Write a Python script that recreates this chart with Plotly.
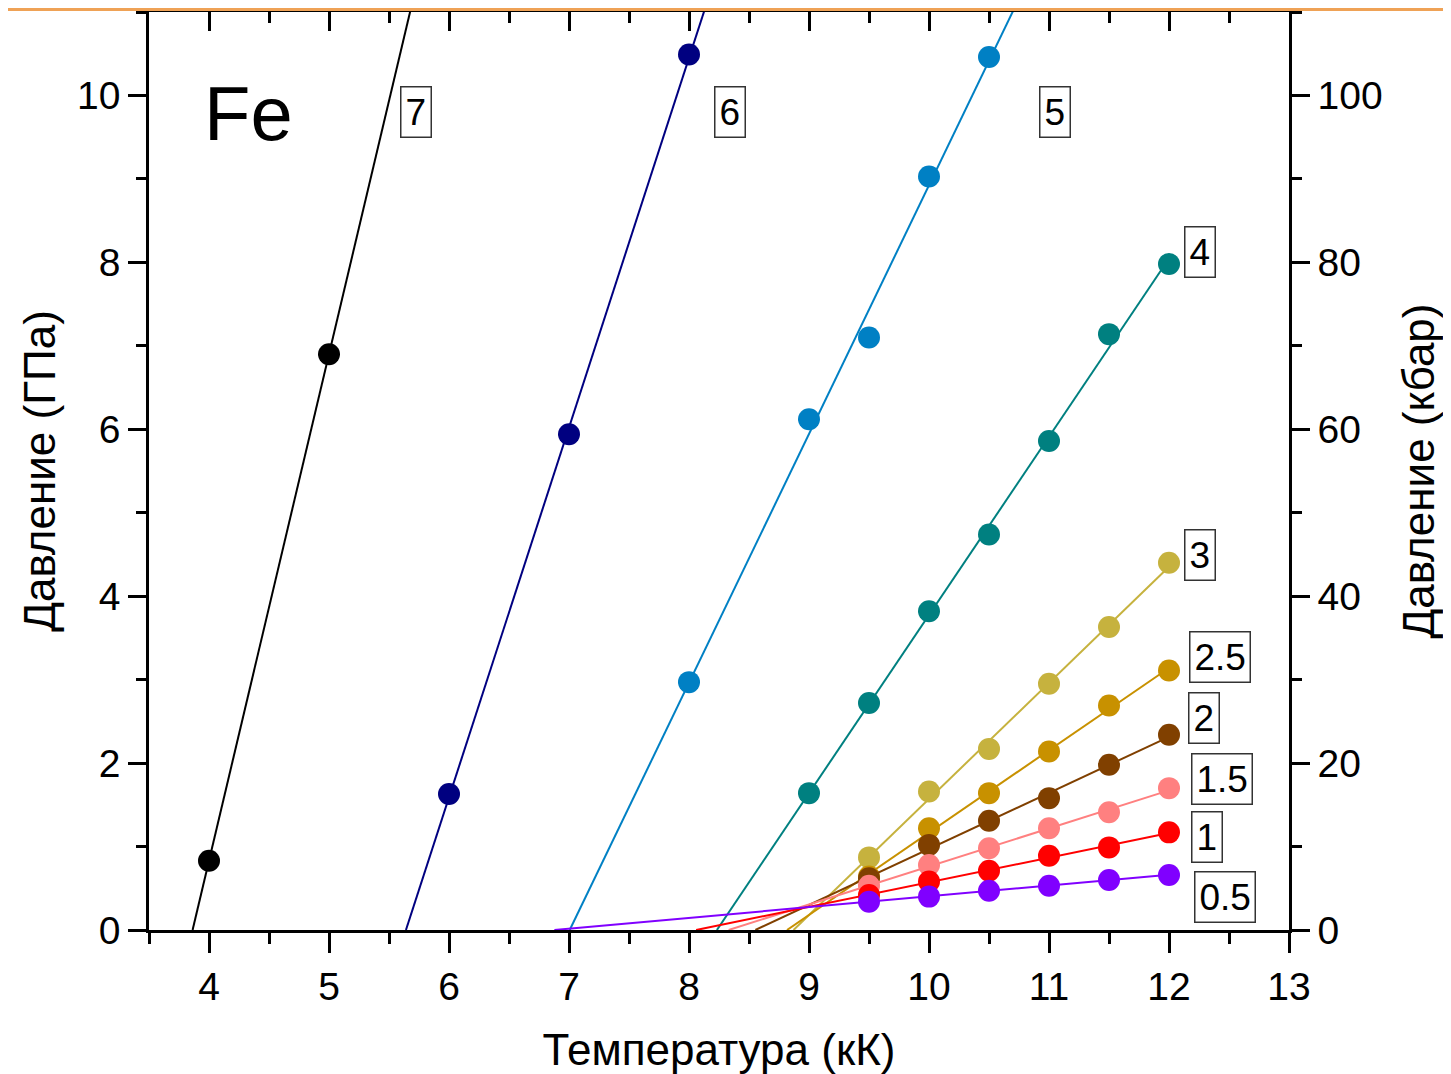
import numpy as np
import plotly.graph_objects as go

# ---- data ----
labels = ["7", "6", "5", "4", "3", "2.5", "2", "1.5", "1", "0.5"]
colors = ["#000000", "#000080", "#0080C4", "#008080", "#C6B23E",
          "#C89100", "#804000", "#FF8080", "#FF0000", "#8000FF"]

t7 = [4, 5]
p7 = [0.83, 6.90]
t6 = [6, 7, 8]
p6 = [1.63, 5.94, 10.49]
t5 = [8, 9, 9.5, 10, 10.5]
p5 = [2.97, 6.12, 7.10, 9.03, 10.46]
t4 = [9, 9.5, 10, 10.5, 11, 11.5, 12]
p4 = [1.64, 2.72, 3.82, 4.74, 5.86, 7.14, 7.98]
t3 = [9.5, 10, 10.5, 11, 11.5, 12]
p3 = [0.87, 1.66, 2.17, 2.95, 3.63, 4.40]
t25 = [9.5, 10, 10.5, 11, 11.5, 12]
p25 = [0.64, 1.22, 1.64, 2.14, 2.69, 3.11]
t2 = [9.5, 10, 10.5, 11, 11.5, 12]
p2 = [0.62, 1.02, 1.31, 1.58, 1.98, 2.34]
t15 = [9.5, 10, 10.5, 11, 11.5, 12]
p15 = [0.53, 0.78, 0.98, 1.22, 1.41, 1.70]
t1 = [9.5, 10, 10.5, 11, 11.5, 12]
p1 = [0.42, 0.58, 0.71, 0.89, 0.99, 1.17]
t05 = [9.5, 10, 10.5, 11, 11.5, 12]
p05 = [0.34, 0.40, 0.47, 0.53, 0.60, 0.66]

series_t = [t7, t6, t5, t4, t3, t25, t2, t15, t1, t05]
series_p = [p7, p6, p5, p4, p3, p25, p2, p15, p1, p05]

# label positions (data coords)
lab_x = [5.725, 8.34, 11.05, 12.26, 12.26, 12.425, 12.29, 12.44, 12.32, 12.47]
lab_y = [9.80, 9.80, 9.80, 8.12, 4.49, 3.27, 2.54, 1.81, 1.11, 0.40]

T_END = 12.0
FONT = "Arial, Liberation Sans, sans-serif"

fig = go.Figure()

for t, p, c, name in zip(series_t, series_p, colors, labels):
    a, b = np.polyfit(t, p, 1)
    x0 = -b / a
    xl = [x0, T_END]
    yl = [a * x + b for x in xl]
    fig.add_trace(go.Scatter(x=xl, y=yl, mode="lines",
                             line=dict(color=c, width=2),
                             showlegend=False, hoverinfo="skip"))
    fig.add_trace(go.Scatter(x=t, y=p, mode="markers", name=name,
                             marker=dict(color=c, size=22, line=dict(width=0)),
                             showlegend=False))

# invisible trace to activate secondary axes
fig.add_trace(go.Scatter(x=[3.5, 13], y=[0, 110], xaxis="x2", yaxis="y2",
                         mode="markers", marker=dict(opacity=0),
                         showlegend=False, hoverinfo="skip"))

for lx, ly, name in zip(lab_x, lab_y, labels):
    fig.add_annotation(x=lx, y=ly, xref="x", yref="y", text=name,
                       showarrow=False, font=dict(family=FONT, size=37, color="black"),
                       bordercolor="#333333", borderwidth=1.5, borderpad=4,
                       bgcolor="white")

fig.add_annotation(x=4.33, y=9.78, xref="x", yref="y", text="Fe", showarrow=False,
                   font=dict(family=FONT, size=76, color="black"))

L, R, T, B = 141, 170, 4, 152
PW = 1451 - L - R
PH = 1074 - T - B

# orange decoration bar at top of slide
fig.add_shape(type="rect", xref="paper", yref="paper",
              x0=-(L + 8) / PW, x1=(1451 - L + 8) / PW,
              y0=1 + (T - 3) / PH, y1=1 + (T + 1) / PH,
              fillcolor="#EFA256", line=dict(width=0), layer="above")

axis_common = dict(showgrid=False, zeroline=False, showline=True,
                   linecolor="black", linewidth=2.5, tickcolor="black",
                   tickwidth=2.5,
                   tickfont=dict(family=FONT, size=39, color="black"))

fig.update_layout(
    width=1451, height=1074,
    margin=dict(l=L, r=R, t=T, b=B),
    paper_bgcolor="white", plot_bgcolor="white",
    xaxis=dict(range=[3.5, 13], tickmode="array",
               tickvals=[4, 5, 6, 7, 8, 9, 10, 11, 12, 13],
               ticks="outside", ticklen=20,
               minor=dict(ticks="outside", ticklen=11, tick0=0, dtick=0.5,
                          tickcolor="black", tickwidth=2.5),
               title=dict(text="Температура (кК)", standoff=28,
                          font=dict(family=FONT, size=44, color="black")),
               **axis_common),
    xaxis2=dict(range=[3.5, 13], overlaying="x", side="top", anchor="y",
                tickmode="array", tickvals=[4, 5, 6, 7, 8, 9, 10, 11, 12, 13],
                ticks="inside", ticklen=19, showticklabels=False,
                minor=dict(ticks="inside", ticklen=11, tick0=0, dtick=0.5,
                           tickcolor="black", tickwidth=2.5),
                **axis_common),
    yaxis=dict(range=[0, 11], tickmode="array", tickvals=[0, 2, 4, 6, 8, 10],
               ticks="outside", ticklen=18,
               minor=dict(ticks="outside", ticklen=10, tick0=0, dtick=1,
                          tickcolor="black", tickwidth=2.5),
               title=dict(text="Давление (ГПа)", standoff=8,
                          font=dict(family=FONT, size=44, color="black")),
               **axis_common),
    yaxis2=dict(range=[0, 110], overlaying="y", side="right", anchor="x",
                tickmode="array", tickvals=[0, 20, 40, 60, 80, 100],
                ticks="outside", ticklen=18,
                minor=dict(ticks="outside", ticklen=10, tick0=0, dtick=10,
                           tickcolor="black", tickwidth=2.5),
                title=dict(text="Давление (кбар)", standoff=22,
                           font=dict(family=FONT, size=44, color="black")),
                **axis_common),
)

fig.write_html("out.html")
